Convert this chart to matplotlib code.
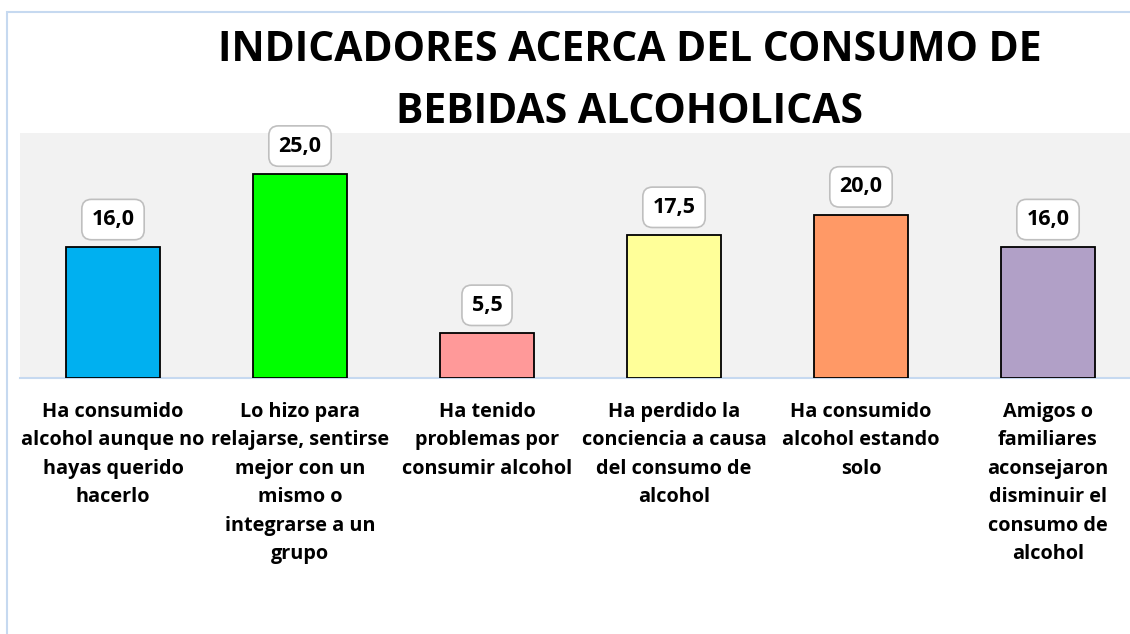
import matplotlib.pyplot as plt
from matplotlib.patches import Rectangle

categorias = [
    "Ha consumido\nalcohol aunque no\nhayas querido\nhacerlo",
    "Lo hizo para\nrelajarse, sentirse\nmejor con un\nmismo o\nintegrarse a un\ngrupo",
    "Ha tenido\nproblemas por\nconsumir alcohol",
    "Ha perdido la\nconciencia a causa\ndel consumo de\nalcohol",
    "Ha consumido\nalcohol estando\nsolo",
    "Amigos o\nfamiliares\naconsejaron\ndisminuir el\nconsumo de\nalcohol",
]
valores = [16.0, 25.0, 5.5, 17.5, 20.0, 16.0]
colores = ["#00B0F0", "#00FF00", "#FF9999", "#FFFF99", "#FF9966", "#B1A0C7"]

plt.rcParams['font.family'] = ['Open Sans', 'DejaVu Sans']

W, H = 1130, 634
fig = plt.figure(figsize=(W / 100, H / 100), dpi=100)

# outer chart border (light blue), cut by the image edge
fig.patches.append(Rectangle((7 / W, -0.1), 1.2, 1 - 12 / H + 0.1, transform=fig.transFigure,
                             facecolor='white', edgecolor='#C6D9F0', linewidth=1.5, zorder=-5))

# plot area: x 19.5..1141.5 px, y 133..378 px
left, right = 19.5, 1141.5
top, bottom = 133, 378
ax = fig.add_axes([left / W, 1 - bottom / H, (right - left) / W, (bottom - top) / H])
ax.set_zorder(2)
ax.set_facecolor('#F2F2F2')

x = range(len(valores))
ax.bar(x, valores, width=0.5, color=colores, edgecolor='black', linewidth=1.3, zorder=3)
ax.set_xlim(-0.5, len(valores) - 0.5)
ax.set_ylim(0, 30)

for i, v in enumerate(valores):
    ax.annotate(f"{v:.1f}".replace('.', ','), (i, v), xytext=(0, 20), textcoords='offset points',
                ha='center', va='center', fontsize=15.5, fontweight='bold', zorder=4,
                bbox=dict(boxstyle='round,pad=0.45,rounding_size=0.45', facecolor='white',
                          edgecolor='#BFBFBF', linewidth=1.2))

for s in ['top', 'left', 'right']:
    ax.spines[s].set_visible(False)
ax.spines['bottom'].set_color('#C6D9F0')
ax.spines['bottom'].set_linewidth(1.5)
ax.set_yticks([])
ax.set_xticks(list(x))
ax.set_xticklabels(categorias, fontsize=14.3, fontweight='bold', linespacing=1.57, va='top')
ax.tick_params(axis='x', length=0, pad=17)

fig.text(630 / W, 1 - 81.5 / H, "INDICADORES ACERCA DEL CONSUMO DE\nBEBIDAS ALCOHOLICAS",
         ha='center', va='center', fontsize=29.4, fontweight='bold', linespacing=1.66)

fig.savefig('out.png', dpi=100)
